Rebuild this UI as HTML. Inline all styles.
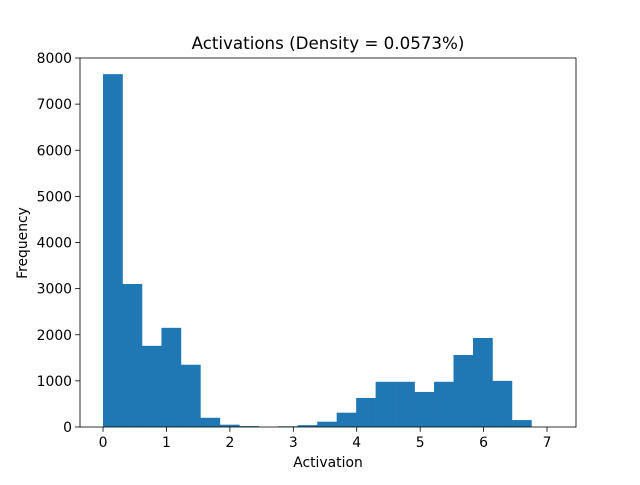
<!DOCTYPE html>
<html><head><meta charset="utf-8"><style>
body{margin:0;background:#fff;font-family:"Liberation Sans","DejaVu Sans",sans-serif}
text{font-family:"DejaVu Sans","Liberation Sans",sans-serif}
</style></head><body>
<svg id="chart" width="640" height="480" xmlns="http://www.w3.org/2000/svg"></svg>
<script>
const counts=[7650,3100,1760,2150,1350,200,50,20,0,15,40,115,310,630,980,980,760,980,1560,1930,1000,150];
const binStart=0, binWidth=0.307;
const xTicks=[0,1,2,3,4,5,6,7];
const yTicks=[0,1000,2000,3000,4000,5000,6000,7000,8000];
const L=80,R=576,T=58,B=427;
const xmin=-0.363,xmax=7.457,ymin=0,ymax=8000;
const X=v=>L+(v-xmin)/(xmax-xmin)*(R-L);
const Y=v=>B-(v-ymin)/(ymax-ymin)*(B-T);
const svg=document.getElementById('chart');
const NS='http://www.w3.org/2000/svg';
function mk(t,a){const e=document.createElementNS(NS,t);for(const k in a)e.setAttribute(k,a[k]);svg.appendChild(e);return e;}
counts.forEach((c,i)=>{
  const x0=X(binStart+i*binWidth),x1=X(binStart+(i+1)*binWidth);
  const r=mk('rect',{x:x0,y:Y(c),width:x1-x0+0.3,height:Y(0)-Y(c),fill:'#1f77b4'});
  
  
});
const f=mk('rect',{x:L,y:T,width:R-L,height:B-T,fill:'none',stroke:'#000','stroke-width':0.8});


xTicks.forEach(v=>{
  mk('line',{x1:X(v),x2:X(v),y1:B,y2:B+4.9,stroke:'#000','stroke-width':0.8});
  const t=mk('text',{x:X(v),y:B+20,'text-anchor':'middle','font-size':13.9});t.textContent=v;
  
  
});
yTicks.forEach(v=>{
  mk('line',{x1:L-4.9,x2:L,y1:Y(v),y2:Y(v),stroke:'#000','stroke-width':0.8});
  const t=mk('text',{x:L-8,y:Y(v)+5,'text-anchor':'end','font-size':13.9});t.textContent=v;
  
  
});
let t=mk('text',{x:328,y:467,'text-anchor':'middle','font-size':13.9});t.textContent='Activation';


t=mk('text',{x:27,y:243,'text-anchor':'middle','font-size':13.9,transform:'rotate(-90 27 243)'});t.textContent='Frequency';


t=mk('text',{x:328,y:49,'text-anchor':'middle','font-size':16.7});t.textContent='Activations (Density = 0.0573%)';


</script>
</body></html>
